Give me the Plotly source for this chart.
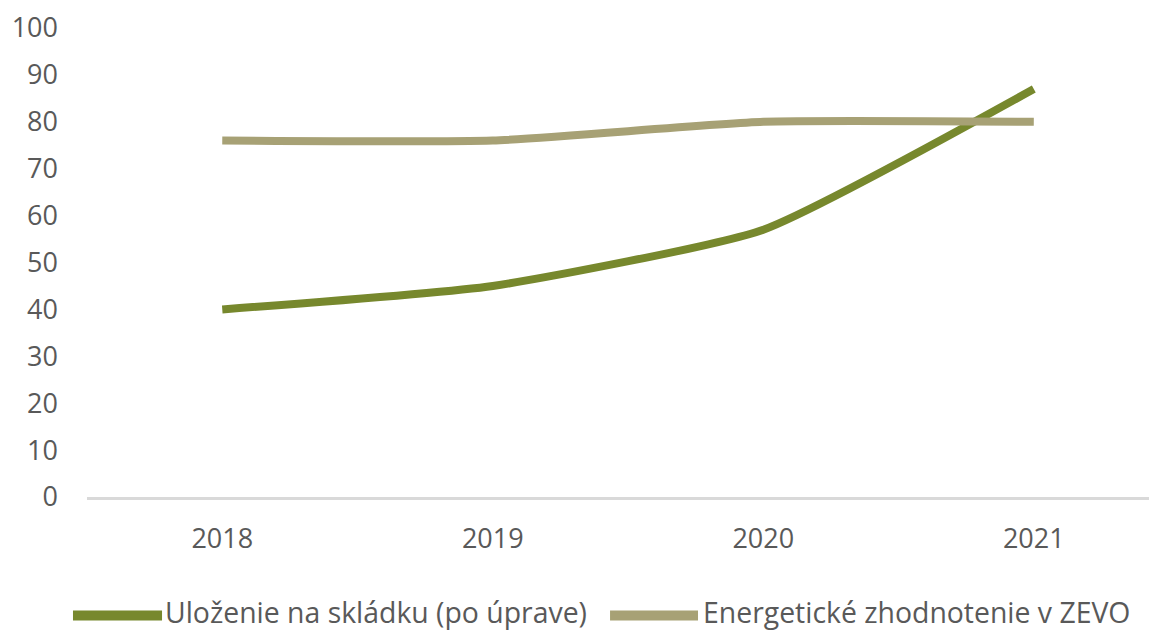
import plotly.graph_objects as go

years = ["2018", "2019", "2020", "2021"]
ulozenie = [40, 45, 57, 87]
energeticke = [76, 76, 80, 80]
series_names = ["Uloženie na skládku (po úprave)", "Energetické zhodnotenie v ZEVO"]
colors = ["#77882d", "#a7a175"]
y_ticks = [0, 10, 20, 30, 40, 50, 60, 70, 80, 90, 100]

fig = go.Figure()
for name, vals, col in zip(series_names, [ulozenie, energeticke], colors):
    fig.add_trace(go.Scatter(x=years, y=vals, name=name, mode="lines", showlegend=False,
                             line=dict(color=col, width=8, shape="spline", smoothing=0.5)))

# custom legend (long thick line swatches, text right after)
legend_slots = [(-0.013, 0.0696, 0.0714), (0.4852, 0.5668, 0.5705)]
line_y = -0.2527
text_y = -0.2442
for (x0, x1, xt), name, col in zip(legend_slots, series_names, colors):
    fig.add_shape(type="line", xref="paper", yref="paper", x0=x0, x1=x1, y0=line_y, y1=line_y,
                  line=dict(color=col, width=10))
    fig.add_annotation(xref="paper", yref="paper", x=xt, y=text_y, text=name,
                       showarrow=False, xanchor="left", yanchor="middle", borderpad=0,
                       font=dict(family="Open Sans", size=28.4, color="#595959"))

fig.update_layout(
    width=1157, height=632,
    margin=dict(l=79, r=0, t=18, b=143),
    paper_bgcolor="white", plot_bgcolor="white",
    font=dict(family="Open Sans", size=27, color="#595959"),
    showlegend=False,
    xaxis=dict(type="category", range=[-0.5, 3.485], showgrid=False, showline=True,
               linecolor="#d9d9d9", linewidth=3, ticks="", ticklabelstandoff=16,
               zeroline=False),
    yaxis=dict(range=[0, 100], tickvals=y_ticks, showgrid=False, zeroline=False,
               showline=False, ticks="", ticklabelstandoff=28, ticklabeloverflow="allow"),
)

fig.write_html("out.html")
